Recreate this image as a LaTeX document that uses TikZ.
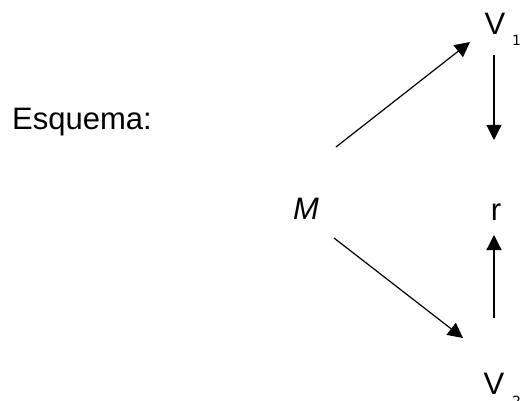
\documentclass[tikz,border=0pt]{standalone}
\usepackage{fontspec}
\setmainfont{Liberation Sans}
\newfontfamily\subfont{DejaVu Sans}
\usetikzlibrary{arrows.meta}
\tikzset{
  lbl/.style={inner sep=0pt, font=\fontsize{31}{36}\selectfont},
  sublbl/.style={inner sep=0pt, font=\subfont\fontsize{14}{17}\selectfont},
  conn/.style={line width=1.2pt, -{Triangle[length=15pt,width=15pt]}}
}
\begin{document}
\begin{tikzpicture}[x=1pt,y=-1pt]
\useasboundingbox (0,0) rectangle (525,401);
\node[lbl, anchor=base west] (esq) at (12,130) {Esquema:};
\node[lbl, anchor=base] (M) at (306,219) {\itshape M};
\node[lbl, anchor=base] (r) at (496,220) {r};
\node[lbl, anchor=base] (V1) at (495,35) {V};
\node[sublbl, anchor=base west] (s1) at (512,46) {1};
\node[lbl, anchor=base] (V2) at (494,394) {V};
\node[sublbl, anchor=base west] (s2) at (512,406) {2};
\coordinate (d1s) at (336,147);
\coordinate (d1e) at (470,42);
\coordinate (d2s) at (334,238);
\coordinate (d2e) at (463,338);
\coordinate (v1s) at (494,55);
\coordinate (v1e) at (494,140);
\coordinate (v2s) at (494,318);
\coordinate (v2e) at (494,235);
\draw[conn] (d1s) -- (d1e);
\draw[conn] (d2s) -- (d2e);
\draw[conn] (v1s) -- (v1e);
\draw[conn] (v2s) -- (v2e);
\end{tikzpicture}
\end{document}
